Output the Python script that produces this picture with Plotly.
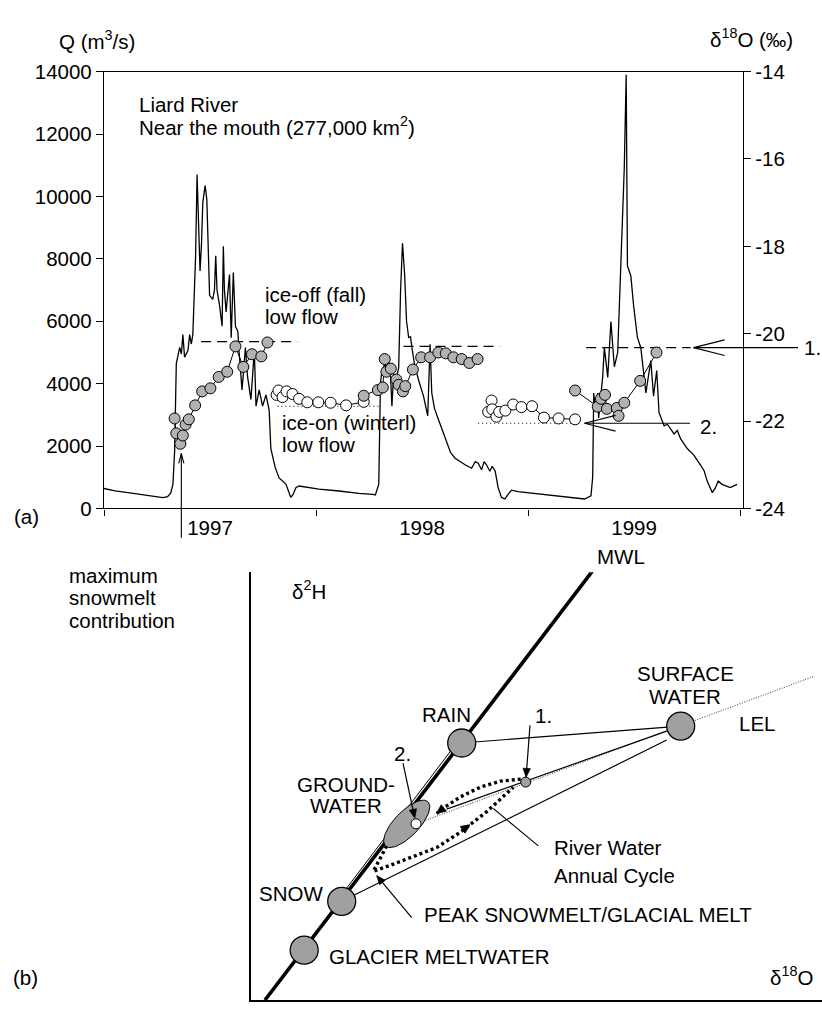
import numpy as np
import plotly.graph_objects as go

W, H = 822, 1012
FONT = "Liberation Sans, Arial, Helvetica, sans-serif"
FS = 20.5

# ---------------- (a) Liard River near the mouth ----------------
# daily discharge, decimal year vs m3/s
q_time = [1997.000, 1997.052, 1997.122, 1997.216, 1997.277, 1997.300, 1997.315, 1997.325, 1997.333, 1997.341,
          1997.349, 1997.357, 1997.365, 1997.372, 1997.380, 1997.396, 1997.404, 1997.412, 1997.419, 1997.424,
          1997.432, 1997.439, 1997.446, 1997.453, 1997.460, 1997.466, 1997.477, 1997.485, 1997.491, 1997.498,
          1997.513, 1997.521, 1997.527, 1997.533, 1997.545, 1997.557, 1997.563, 1997.568, 1997.576, 1997.584,
          1997.592, 1997.600, 1997.610, 1997.620, 1997.631, 1997.638, 1997.651, 1997.667, 1997.677, 1997.693,
          1997.709, 1997.717, 1997.732, 1997.748, 1997.764, 1997.779, 1997.787, 1997.808, 1997.826, 1997.858,
          1997.869, 1997.881, 1997.892, 1997.905, 1997.920, 1997.944, 1998.014, 1998.108, 1998.202, 1998.268,
          1998.280, 1998.296, 1998.304, 1998.311, 1998.327, 1998.343, 1998.352, 1998.358, 1998.366, 1998.380,
          1998.390, 1998.399, 1998.408, 1998.418, 1998.427, 1998.437, 1998.446, 1998.452, 1998.465, 1998.484,
          1998.507, 1998.527, 1998.533, 1998.538, 1998.546, 1998.559, 1998.577, 1998.609, 1998.634, 1998.656,
          1998.703, 1998.734, 1998.751, 1998.765, 1998.781, 1998.793, 1998.804, 1998.820, 1998.831, 1998.845,
          1998.859, 1998.875, 1998.891, 1998.906, 1998.922, 1998.953, 1999.047, 1999.141, 1999.211, 1999.266,
          1999.297, 1999.305, 1999.310, 1999.319, 1999.329, 1999.333, 1999.343, 1999.352, 1999.360, 1999.376,
          1999.391, 1999.407, 1999.423, 1999.438, 1999.454, 1999.463, 1999.469, 1999.485, 1999.498, 1999.516,
          1999.532, 1999.556, 1999.579, 1999.592, 1999.607, 1999.618, 1999.642, 1999.657, 1999.673, 1999.689,
          1999.704, 1999.720, 1999.751, 1999.782, 1999.813, 1999.831, 1999.845, 1999.869, 1999.883, 1999.897,
          1999.915, 1999.954, 1999.986]
q_flow = [640, 560, 500, 420, 350, 380, 500, 770, 1820, 4640,
          4950, 5160, 4950, 5570, 4850, 5060, 5570, 5270, 5570, 6510,
          8080, 10700, 9000, 7610, 8500, 9800, 10350, 9900, 8500, 6830,
          6700, 7000, 8100, 7000, 6510, 5840, 8400, 7000, 6300, 6800,
          7500, 5470, 7560, 5840, 5680, 4950, 3800, 5160, 4230, 3490,
          5050, 3280, 3800, 3280, 3640, 3150, 1920, 1300, 980, 780,
          560, 355, 450, 667, 720, 690, 620, 560, 480, 450,
          430, 780, 4010, 4430, 4640, 4740, 4200, 3280, 4300, 4200,
          4500, 7000, 8500, 7500, 6000, 5480, 5500, 5170, 4600, 4110,
          3600, 2970, 4000, 5260, 3700, 3200, 2860, 2230, 1800, 1610,
          1400, 1290, 1500, 1450, 1240, 1500, 1400, 1190, 1350, 1200,
          667, 354, 304, 450, 586, 542, 470, 400, 340, 304,
          407, 1000, 3700, 3100, 3700, 2900, 3600, 4200, 5160, 4200,
          5990, 4540, 5000, 8080, 10900, 13900, 7770, 7450, 6500, 5480,
          5150, 3700, 4740, 3600, 4420, 3070, 2650, 2700, 2550, 2390,
          2500, 2230, 1920, 1710, 1400, 1200, 877, 510, 650, 877,
          773, 667, 773]

# river-water d18O (permil), open-water season samples
melt97_t = [1997.333, 1997.341, 1997.360, 1997.372, 1997.385, 1997.400, 1997.430, 1997.463, 1997.502, 1997.541,
            1997.581, 1997.620, 1997.657, 1997.698, 1997.742, 1997.771]
melt97_d = [-21.94, -22.28, -22.52, -22.33, -22.08, -21.96, -21.64, -21.32, -21.25, -20.99,
            -20.87, -20.29, -20.76, -20.47, -20.52, -20.20]
melt98_t = [1998.225, 1998.292, 1998.315, 1998.324, 1998.332, 1998.353, 1998.379, 1998.390, 1998.410, 1998.421,
            1998.457, 1998.496, 1998.538, 1998.577, 1998.612, 1998.648, 1998.687, 1998.723, 1998.762]
melt98_d = [-21.42, -21.29, -21.23, -20.58, -20.87, -20.80, -21.05, -21.17, -21.32, -21.20,
            -20.82, -20.54, -20.54, -20.43, -20.45, -20.54, -20.58, -20.67, -20.58]
melt99_t = [1999.222, 1999.329, 1999.344, 1999.363, 1999.372, 1999.419, 1999.427, 1999.454, 1999.529, 1999.606]
melt99_d = [-21.30, -21.67, -21.49, -21.40, -21.72, -21.70, -21.88, -21.58, -21.08, -20.43]

# under-ice (winter) samples
winter98_t = [1997.814, 1997.823, 1997.842, 1997.861, 1997.889, 1997.920, 1997.959, 1998.011, 1998.069, 1998.142,
              1998.225]
winter98_d = [-21.40, -21.30, -21.45, -21.32, -21.38, -21.49, -21.57, -21.57, -21.58, -21.64, -21.56]
winter99_t = [1998.812, 1998.828, 1998.831, 1998.851, 1998.864, 1998.893, 1998.930, 1998.969, 1999.019, 1999.075,
              1999.144, 1999.222]
winter99_d = [-21.79, -21.53, -21.73, -21.90, -21.79, -21.76, -21.62, -21.68, -21.66, -21.92, -21.94, -21.96]

# ice-off (fall) and ice-on (winter) low-flow d18O levels
fall_t0 = [1997.458, 1998.413, 1999.274]
fall_t1 = [1997.912, 1998.867, 1999.767]
fall_d = [-20.18, -20.29, -20.32]
ice_t0 = [1997.818, 1998.765]
ice_t1 = [1998.296, 1999.243]
ice_d = [-21.66, -22.05]

year_ticks = [1997, 1998, 1999, 2000]
year_labels = ["1997", "1998", "1999"]
q_ticks = list(range(0, 14001, 2000))
d_ticks = list(range(-24, -13, 2))

# ---------------- (b) d2H-d18O schematic ----------------
# schematic positions of water pools (arbitrary isotope units)
pool_names = ["GLACIER", "SNOW", "RAIN", "SURFACE"]
pool_o = [53.5, 91.0, 211.0, 430.0]
pool_h = [51.0, 101.0, 263.0, 280.3]
gw_o, gw_h = 156.0, 180.3          # groundwater field centre
pt1_o, pt1_h = 275.0, 223.0        # 1. ice-off (fall) river water
pt2_o, pt2_h = 165.3, 180.3        # 2. ice-on (winter) river water
mwl_o = [14.3, 342.0]
mwl_h = [0.0, 439.3]
lel_o = [165.3, 562.6]
lel_h = [180.3, 331.0]
cycle_fall_o = [270, 250, 230, 210, 195, 186]
cycle_fall_h = [226, 224, 218, 208, 198, 191]
cycle_melt_o = [136.0, 129.0, 122.6, 140.0, 152.6, 186.0, 210.0, 236.0, 262.6]
cycle_melt_h = [157.7, 145.0, 131.7, 138.0, 142.7, 156.0, 172.0, 192.7, 217.7]

# ---------------- page geometry ----------------
AX0, AX1, AY_TOP, AY_BOT = 104, 743, 61, 508
BX0, BX1, BY_TOP, BY_BOT = 250.7, 822, 573.3, 1011
X_RANGE = [1997.0, 2000.014]
Q_RANGE = [0, 14000]
D_RANGE = [-24, -14]


def t_px(t):
    return AX0 + (t - X_RANGE[0]) / (X_RANGE[1] - X_RANGE[0]) * (AX1 - AX0)


def d_px(d):
    return AY_BOT - (d - D_RANGE[0]) / (D_RANGE[1] - D_RANGE[0]) * (AY_BOT - AY_TOP)


def paper(x, y):
    return x / W, 1 - y / H


def pline(x0, y0, x1, y1, width=1.2, dash="solid"):
    a, b = paper(x0, y0)
    c, d = paper(x1, y1)
    return dict(type="line", xref="paper", yref="paper", x0=a, y0=b, x1=c, y1=d,
                line=dict(color="black", width=width, dash=dash))


def label(x, y, s, anchor="left", size=FS):
    xp, yp = paper(x, y)
    return dict(x=xp, y=yp, xref="paper", yref="paper", text=s, showarrow=False,
                xanchor=anchor, yanchor="middle", font=dict(family=FONT, size=size, color="black"))


def b_arrow(tip, tail, standoff=0.0, head=9.0, half=3.6, shaft=True):
    """Arrow in schematic units (1 unit = 1 px): optional shaft plus a filled head."""
    tx, ty = tip
    sx, sy = tail
    dx, dy = tx - sx, ty - sy
    n = float(np.hypot(dx, dy))
    ux, uy = dx / n, dy / n
    tx, ty = tx - ux * standoff, ty - uy * standoff
    bx, by = tx - ux * head, ty - uy * head
    out = []
    if shaft:
        out.append(dict(type="line", xref="x2", yref="y3", x0=sx, y0=sy, x1=bx + ux * 2, y1=by + uy * 2,
                        line=dict(color="black", width=1.2)))
    p1 = (bx - uy * half, by + ux * half)
    p2 = (bx + uy * half, by - ux * half)
    path = "M %.2f %.2f L %.2f %.2f L %.2f %.2f Z" % (tx, ty, p1[0], p1[1], p2[0], p2[1])
    out.append(dict(type="path", xref="x2", yref="y3", path=path, fillcolor="black",
                    line=dict(color="black", width=0.8)))
    return out


fig = go.Figure()

# discharge hydrograph
fig.add_trace(go.Scatter(x=q_time, y=q_flow, mode="lines", line=dict(color="black", width=1.3),
                         xaxis="x", yaxis="y", hoverinfo="skip"))

# low-flow reference levels
fx, fy = [], []
for a, b, d in zip(fall_t0, fall_t1, fall_d):
    fx += [a, b, None]
    fy += [d, d, None]
fig.add_trace(go.Scatter(x=fx, y=fy, mode="lines", line=dict(color="black", width=1.2, dash="10px,6px"),
                         xaxis="x", yaxis="y2"))
ix, iy = [], []
for a, b, d in zip(ice_t0, ice_t1, ice_d):
    ix += [a, b, None]
    iy += [d, d, None]
fig.add_trace(go.Scatter(x=ix, y=iy, mode="lines", line=dict(color="black", width=1.2, dash="1px,3px"),
                         xaxis="x", yaxis="y2"))

# d18O samples
GRAY_A = "#b2b2b2"
for t, d, fill in [(winter98_t, winter98_d, "white"), (winter99_t, winter99_d, "white"),
                   (melt97_t, melt97_d, GRAY_A), (melt98_t, melt98_d, GRAY_A), (melt99_t, melt99_d, GRAY_A)]:
    fig.add_trace(go.Scatter(x=t, y=d, mode="lines+markers", line=dict(color="black", width=1),
                             marker=dict(size=11, color=fill, line=dict(color="black", width=1)),
                             xaxis="x", yaxis="y2"))


# ---- panel (b) schematic traces ----
def bline(xs, ys, width=1.2, dash="solid", color="black"):
    fig.add_trace(go.Scatter(x=xs, y=ys, mode="lines", line=dict(color=color, width=width, dash=dash),
                             xaxis="x2", yaxis="y3", hoverinfo="skip"))


sx, sy = pool_o[1], pool_h[1]
rx, ry = pool_o[2], pool_h[2]
wx, wy = pool_o[3], pool_h[3]
bline(lel_o, lel_h, width=1.1, dash="1px,1.5px", color="#555555")
bline([rx, wx], [ry, wy], width=1.2)                     # rain - surface water mixing
bline([sx, wx - 14], [sy, wy - 14.3], width=1.2)         # snow - surface water mixing
bline([sx - 5, rx - 5], [sy, ry], width=1.0)             # snow - rain mixing
bline([gw_o + 40, wx], [gw_h + 15, wy], width=1.2)       # groundwater - surface water
bline(mwl_o, mwl_h, width=3.6)                           # meteoric water line
bline(cycle_fall_o, cycle_fall_h, width=3.4, dash="3px,3px")
bline(cycle_melt_o, cycle_melt_h, width=3.4, dash="3px,3px")

# groundwater field
th = np.linspace(0, 2 * np.pi, 73)
phi = np.deg2rad(47)
ea, eb = 31, 12.5
ex = gw_o + ea * np.cos(th) * np.cos(phi) - eb * np.sin(th) * np.sin(phi)
ey = gw_h + ea * np.cos(th) * np.sin(phi) + eb * np.sin(th) * np.cos(phi)
fig.add_trace(go.Scatter(x=ex, y=ey, mode="lines", fill="toself", fillcolor="#a0a0a0",
                         line=dict(color="black", width=1), xaxis="x2", yaxis="y3", hoverinfo="skip"))

fig.add_trace(go.Scatter(x=pool_o, y=pool_h, mode="markers",
                         marker=dict(size=28, color="#a0a0a0", line=dict(color="black", width=1.3)),
                         xaxis="x2", yaxis="y3"))
fig.add_trace(go.Scatter(x=[pt1_o], y=[pt1_h], mode="markers",
                         marker=dict(size=10, color="#a0a0a0", line=dict(color="black", width=1)),
                         xaxis="x2", yaxis="y3"))
fig.add_trace(go.Scatter(x=[pt2_o], y=[pt2_h], mode="markers",
                         marker=dict(size=10, color="white", line=dict(color="black", width=1)),
                         xaxis="x2", yaxis="y3"))

# ---------------- overlays ----------------
shapes = []
# "1." arrow to the ice-off level, "2." arrow to the ice-on level
tip1x, tip1y = t_px(fall_t1[2]) + 3, d_px(fall_d[2])
tip2x, tip2y = t_px(ice_t1[1]) + 5, d_px(ice_d[1])
for tx_, ty_, tail in [(tip1x, tip1y, 798), (tip2x, tip2y, 690)]:
    shapes.append(pline(tx_, ty_, tail, ty_))
    shapes.append(pline(tx_, ty_, tx_ + 31, ty_ - 8))
    shapes.append(pline(tx_, ty_, tx_ + 31, ty_ + 8))

# maximum snowmelt contribution marker (most depleted sample)
imin = int(np.argmin(melt97_d))
mx = t_px(melt97_t[imin]) + 1
my = d_px(melt97_d[imin]) + 10
shapes.append(pline(mx, 538, mx, my, width=1.1))
shapes.append(pline(mx, my, mx - 2.6, my + 10, width=1.1))
shapes.append(pline(mx, my, mx + 2.6, my + 10, width=1.1))

# river-water annual cycle pointer
shapes.append(dict(type="line", xref="x2", yref="y3", x0=287.6, y0=157.7, x1=242.6, y1=196,
                   line=dict(color="black", width=1.1)))
# pointer arrows of the schematic
shapes += b_arrow((pt1_o, pt1_h), (pt1_o + 4.3, pt1_h + 58), standoff=5)
shapes += b_arrow((pt2_o, pt2_h), (pt2_o - 13, pt2_h + 62), standoff=6)
shapes += b_arrow((cycle_melt_o[2] + 3.4, cycle_melt_h[2] - 4.4), (161, 84.3))
# direction heads on the annual cycle
shapes += b_arrow((cycle_fall_o[-1], cycle_fall_h[-1]), (cycle_fall_o[-2], cycle_fall_h[-2]),
                  head=9, half=4.2, shaft=False)
shapes += b_arrow((219.3, 179.3), (cycle_melt_o[5], cycle_melt_h[5]), head=9, half=4.2, shaft=False)

annotations = [
    label(56.7, 29, "Q (m<sup>3</sup>/s)"),
    label(708, 27, "\u03b4<sup>18</sup>O (\u2030)"),
    label(136.7, 94.3, "Liard River"),
    label(136.7, 116.7, "Near the mouth (277,000 km<sup>2</sup>)"),
    label(263.3, 289, "ice-off (fall)"),
    label(263.3, 311.7, "low flow"),
    label(280, 420, "ice-on (winterl)"),
    label(280, 442.7, "low flow"),
    label(802, tip1y, "1."),
    label(698, tip2y + 3, "2."),
    label(11.7, 516.7, "(a)"),
    label(66.7, 576.7, "maximum"),
    label(66.7, 599, "snowmelt"),
    label(66.7, 622.7, "contribution"),
    # panel (b)
    label(290, 591.7, "\u03b4<sup>2</sup>H"),
    label(595, 556.7, "MWL"),
    label(420, 719.3, "RAIN"),
    label(533, 720, "1."),
    label(391.7, 758.3, "2."),
    label(346, 790, "GROUND-", anchor="center"),
    label(346, 812.3, "WATER", anchor="center"),
    label(685, 677.3, "SURFACE", anchor="center"),
    label(685, 700, "WATER", anchor="center"),
    label(736.7, 728.3, "LEL"),
    label(552, 855, "River Water"),
    label(552, 883.3, "Annual Cycle"),
    label(256.7, 901.7, "SNOW"),
    label(421.7, 923.3, "PEAK SNOWMELT/GLACIAL MELT"),
    label(326.7, 966, "GLACIER MELTWATER"),
    label(767.7, 986.7, "\u03b4<sup>18</sup>O"),
    label(11, 988, "(b)"),
]

axis_font = dict(family=FONT, size=FS, color="black")
fig.update_layout(
    width=W, height=H, margin=dict(l=0, r=0, t=0, b=0),
    paper_bgcolor="white", plot_bgcolor="white", showlegend=False,
    font=dict(family=FONT, size=FS, color="black"),
    xaxis=dict(domain=[AX0 / W, AX1 / W], range=X_RANGE, anchor="y",
               tickmode="array", tickvals=[y + 0.5 for y in year_ticks[:-1]], ticktext=year_labels,
               ticks="", showline=True, linecolor="black", linewidth=1.3, mirror=True,
               showgrid=False, zeroline=False, tickfont=axis_font, ticklabelstandoff=1,
               minor=dict(tickmode="array", tickvals=year_ticks, ticks="outside", ticklen=6,
                          tickwidth=1.2, tickcolor="black", showgrid=False)),
    yaxis=dict(domain=[1 - AY_BOT / H, 1 - AY_TOP / H], range=Q_RANGE, anchor="x",
               tickmode="array", tickvals=q_ticks, ticktext=[str(v) for v in q_ticks],
               ticks="outside", ticklen=7, tickwidth=1.2, tickcolor="black",
               showline=True, linecolor="black", linewidth=1.3, showgrid=False, zeroline=False,
               tickfont=axis_font),
    yaxis2=dict(overlaying="y", side="right", anchor="x", range=D_RANGE,
                tickmode="array", tickvals=d_ticks, ticktext=["-%d" % abs(v) for v in d_ticks],
                ticks="outside", ticklen=7, tickwidth=1.2, tickcolor="black",
                showline=True, linecolor="black", linewidth=1.3, showgrid=False, zeroline=False,
                tickfont=axis_font),
    xaxis2=dict(domain=[BX0 / W, BX1 / W], range=[0, BX1 - BX0], anchor="y3",
                showline=True, linecolor="black", linewidth=1.5, showticklabels=False, ticks="",
                tickmode="array", tickvals=[], showgrid=False, zeroline=False),
    yaxis3=dict(domain=[1 - BY_BOT / H, 1 - BY_TOP / H], range=[0, BY_BOT - BY_TOP], anchor="x2",
                showline=True, linecolor="black", linewidth=1.5, showticklabels=False, ticks="",
                tickmode="array", tickvals=[], showgrid=False, zeroline=False),
    shapes=shapes,
    annotations=annotations,
)

fig.write_html("out.html")
